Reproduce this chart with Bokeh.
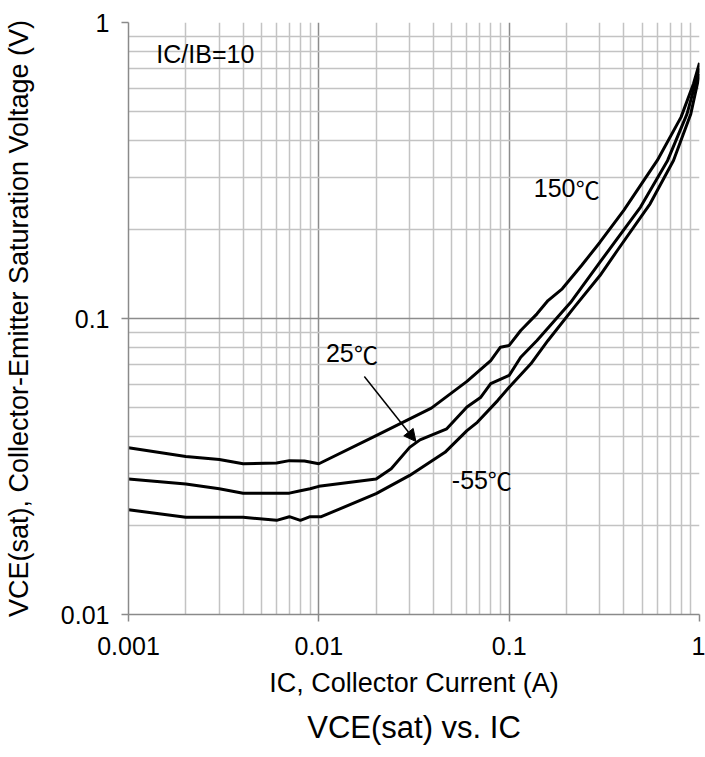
from bokeh.plotting import figure
from bokeh.models import (Range1d, FixedTicker, CustomJSTickFormatter, Label,
                          Arrow, NormalHead, Title)
from bokeh.embed import file_html
from bokeh.resources import INLINE

# Collector current (A) and VCE(sat) (V) per junction temperature, IC/IB = 10
ic_150 = [0.001, 0.002, 0.003, 0.004, 0.006, 0.007, 0.0084, 0.01, 0.02, 0.039,
          0.06, 0.08, 0.09, 0.1, 0.115, 0.14, 0.16, 0.19, 0.24, 0.3, 0.4, 0.6,
          0.8, 0.93, 1.0]
vce_150 = [0.0366, 0.0342, 0.0334, 0.0323, 0.0325, 0.0331, 0.0330, 0.0323,
           0.0402, 0.0498, 0.0613, 0.0721, 0.0800, 0.0811, 0.0911, 0.1037,
           0.115, 0.126, 0.151, 0.181, 0.232, 0.342, 0.479, 0.621, 0.73]

ic_25 = [0.001, 0.002, 0.003, 0.004, 0.007, 0.008, 0.009, 0.01, 0.02, 0.024,
         0.03, 0.034, 0.047, 0.06, 0.071, 0.08, 0.1, 0.115, 0.14, 0.21, 0.3,
         0.49, 0.68, 0.86, 1.0]
vce_25 = [0.0287, 0.0276, 0.0266, 0.0257, 0.0257, 0.0262, 0.0266, 0.0271,
          0.0287, 0.0311, 0.0367, 0.0389, 0.0424, 0.0502, 0.0542, 0.0602,
          0.0642, 0.0740, 0.0843, 0.1132, 0.155, 0.238, 0.342, 0.491, 0.70]

ic_m55 = [0.001, 0.002, 0.004, 0.006, 0.007, 0.008, 0.009, 0.0103, 0.02, 0.03,
          0.046, 0.06, 0.068, 0.087, 0.1, 0.13, 0.16, 0.22, 0.3, 0.37, 0.55,
          0.73, 0.9, 1.0]
vce_m55 = [0.0226, 0.0213, 0.0213, 0.0208, 0.0214, 0.0208, 0.0214, 0.0214,
           0.0256, 0.0295, 0.0353, 0.0418, 0.0446, 0.0528, 0.0586, 0.0703,
           0.0843, 0.1092, 0.1397, 0.1697, 0.244, 0.342, 0.491, 0.67]

x_major = [0.001, 0.01, 0.1, 1]
y_major = [0.01, 0.1, 1]

FONT = "Liberation Sans"
CJK = "Noto Sans CJK JP"

p = figure(width=705, height=757,
           x_axis_type="log", y_axis_type="log",
           x_range=Range1d(0.001, 1), y_range=Range1d(0.01, 1),
           output_backend="svg", toolbar_location=None,
           min_border_left=127, min_border_right=6,
           min_border_top=22, min_border_bottom=143)
p.outline_line_color = None
p.background_fill_color = "white"
p.border_fill_color = "white"

x_minor = [k * 10.0 ** e for e in (-3, -2, -1) for k in range(2, 10)]
y_minor = [k * 10.0 ** e for e in (-2, -1) for k in range(2, 10)]
p.xaxis.ticker = FixedTicker(ticks=x_major, minor_ticks=x_minor)
p.yaxis.ticker = FixedTicker(ticks=y_major, minor_ticks=y_minor)
p.xgrid.ticker = p.xaxis.ticker
p.ygrid.ticker = p.yaxis.ticker

fmt = CustomJSTickFormatter(code="return String(tick);")
for ax in (p.xaxis, p.yaxis):
    ax.formatter = fmt
    ax.axis_line_color = "#8a8a8a"
    ax.axis_line_width = 1.5
    ax.major_tick_line_color = "#8a8a8a"
    ax.major_tick_line_width = 1.5
    ax.major_tick_out = 7
    ax.major_tick_in = 0
    ax.minor_tick_line_color = None
    ax.major_label_text_font = FONT
    ax.major_label_text_font_size = "25px"
    ax.major_label_text_color = "black"
    ax.axis_label_text_font = FONT
    ax.axis_label_text_font_size = "27px"
    ax.axis_label_text_font_style = "normal"
    ax.axis_label_text_color = "black"

p.xaxis.axis_label = "IC, Collector Current (A)"
p.yaxis.axis_label = "VCE(sat), Collector-Emitter Saturation Voltage (V)"
p.xaxis.major_label_standoff = 15
p.xaxis.axis_label_standoff = 10
p.yaxis.major_label_standoff = 12
p.yaxis.axis_label_standoff = 24

for g in (p.xgrid, p.ygrid):
    g.grid_line_color = "#8c8c8c"
    g.grid_line_width = 1.5
    g.minor_grid_line_color = "#c3c3c3"
    g.minor_grid_line_width = 1.5

for xs, ys in ((ic_150, vce_150), (ic_25, vce_25), (ic_m55, vce_m55)):
    p.line(xs, ys, line_color="black", line_width=3, line_join="round")

ann = dict(text_font=FONT, text_font_size="25px", text_color="black",
           text_baseline="middle")
deg = dict(text_font=CJK, text_font_size="24px", text_color="black",
           text_baseline="middle")
p.add_layout(Label(x=0.0014, y=0.785, text="IC/IB=10", **ann))
# temperature tags: digits and the degree-Celsius sign set separately
for x, y, num, shift in ((0.1346, 0.275, "150", 42),
                         (0.0109, 0.0762, "25", 28),
                         (0.050, 0.0285, "-55", 36)):
    p.add_layout(Label(x=x, y=y, text=num, **ann))
    p.add_layout(Label(x=x, y=y, text="\u2103", x_offset=shift, **deg))

p.add_layout(Arrow(x_start=0.01734, y_start=0.0637, x_end=0.03237, y_end=0.0384,
                   line_color="black", line_width=1.5,
                   end=NormalHead(size=12, fill_color="black", line_color="black")))

p.add_layout(Title(text="VCE(sat) vs. IC", align="center", offset=17,
                   vertical_align="bottom",
                   text_font=FONT, text_font_size="31px", text_color="black",
                   text_font_style="normal", standoff=14), "below")

open("out.html", "w").write(file_html(p, INLINE))
